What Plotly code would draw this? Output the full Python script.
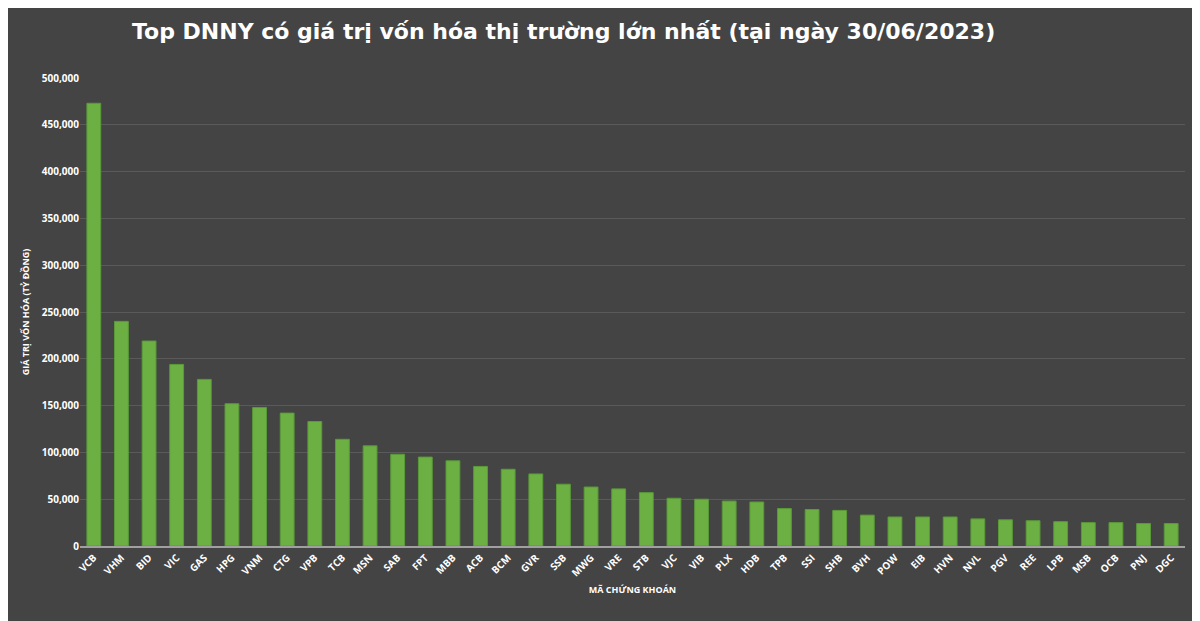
import plotly.graph_objects as go

tickers = ["VCB", "VHM", "BID", "VIC", "GAS", "HPG", "VNM", "CTG", "VPB", "TCB",
           "MSN", "SAB", "FPT", "MBB", "ACB", "BCM", "GVR", "SSB", "MWG", "VRE",
           "STB", "VJC", "VIB", "PLX", "HDB", "TPB", "SSI", "SHB", "BVH", "POW",
           "EIB", "HVN", "NVL", "PGV", "REE", "LPB", "MSB", "OCB", "PNJ", "DGC"]
market_cap = [473000, 240000, 219000, 194000, 178000, 152000, 148000, 142000, 133000, 114000,
              107000, 98000, 95000, 91000, 85000, 82000, 77000, 66000, 63000, 61000,
              57000, 51000, 50000, 48000, 47000, 40000, 39000, 38000, 33000, 31000,
              31000, 31000, 29000, 28000, 27000, 26000, 25000, 25000, 24000, 24000]

fig = go.Figure(
    go.Bar(
        x=tickers,
        y=market_cap,
        width=0.5,
        marker=dict(color="#6cb043", line=dict(color="#5a9a38", width=1)),
    )
)

fig.update_layout(
    width=1200,
    height=621,
    paper_bgcolor="#444444",
    plot_bgcolor="rgba(0,0,0,0)",
    margin=dict(l=72, r=23, t=70, b=83),
    font=dict(family="Open Sans", color="white", size=10),
    title=dict(
        text="<b>Top DNNY có giá trị vốn hóa thị trường lớn nhất (tại ngày 30/06/2023)</b>",
        xref="container", x=0.463, xanchor="center", y=0.975, yanchor="top",
        font=dict(size=22, color="white", family="DejaVu Sans"),
    ),
    bargap=0.5,
    showlegend=False,
)
fig.update_xaxes(
    title=dict(text="<b>MÃ CHỨNG KHOÁN</b>", font=dict(size=9), standoff=8),
    tickangle=-45, tickfont=dict(size=10, family="Open Sans", weight="bold"),
    showline=True, linecolor="#a0a0a0", linewidth=2,
)
fig.update_yaxes(
    title=dict(text="<b>GIÁ TRỊ VỐN HÓA (TỶ ĐỒNG)</b>", font=dict(size=9), standoff=10),
    range=[0, 500000], dtick=50000, tickformat=",",
    gridcolor="#5a5a5a", zeroline=False, tickfont=dict(size=10, weight="bold"),
)

fig.write_html("out.html")
